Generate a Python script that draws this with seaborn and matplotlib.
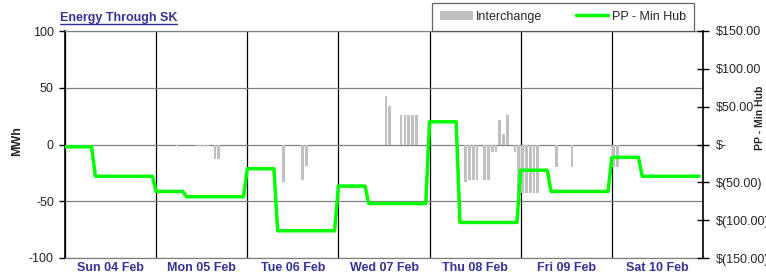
import numpy as np
import pandas as pd
import matplotlib
matplotlib.use("Agg")
import matplotlib.pyplot as plt
from matplotlib.lines import Line2D
from matplotlib.patches import Patch
import seaborn as sns

# --- data ------------------------------------------------------------------
days = ["Sun 04 Feb", "Mon 05 Feb", "Tue 06 Feb", "Wed 07 Feb",
        "Thu 08 Feb", "Fri 09 Feb", "Sat 10 Feb"]

# hourly interchange (MWh), 24 values per day
ic_sun = [0, 0, 0, 0, 0, 0, 0, 0, 0, 0, 0, 0, 0, 0, 0, 0, 0, 0, 0, 0, 0, 0, 0, 0]
ic_mon = [0, 0, 0, 0, 0, -1.5, 0, 0, 0, 0, -1.5, -1.5, -1.5, -1.5, 0, -13, -13, 0, 0, 0, 0, 0, 0, 0]
ic_tue = [0, 0, 0, 0, 0, 0, 0, 0, 0, -33, 0, 0, 0, 0, -31, -19, 0, 0, 0, 0, 0, 0, 0, 0]
ic_wed = [0, 0, 0, 0, 0, 0, 0, 0, 0, 0, 0, 0, 43, 34, 0, 0, 26, 26, 26, 26, 26, 0, 0, 0]
ic_thu = [0, 0, 0, 0, 0, 0, 0, 0, 0, -33, -31, -31, -31, 0, -31, -31, -7, -7, 22, 9, 26, 0, -7, -43]
ic_fri = [-43, -43, -43, -43, -43, 0, 0, 0, 0, -20, 0, 0, 0, -20, 0, 0, 0, 0, 0, 0, 0, 0, 0, 0]
ic_sat = [-20, -20, 0, 0, 0, 0, 0, 0, 0, 0, 0, 0, 0, 0, 0, 0, 0, 0, 0, 0, 0, 0, 0, 0]

# PP - Min Hub price ($): flat over hours 0-7 and over hours 8-23 of each day
price_early = [-3, -62, -32, -55, 30, -34, -17]
price_late = [-42, -69, -114, -78, -103, -62, -42]

price_ticks = [-150, -100, -50, 0, 50, 100, 150]
price_labels = ["\\$(150.00)", "\\$(100.00)", "\\$(50.00)", "\\$-",
                "\\$50.00", "\\$100.00", "\\$150.00"]
mwh_ticks = [-100, -50, 0, 50, 100]

interchange = ic_sun + ic_mon + ic_tue + ic_wed + ic_thu + ic_fri + ic_sat
price = []
for e, l in zip(price_early, price_late):
    price += [e] * 8 + [l] * 16

df = pd.DataFrame({"hour": np.arange(len(interchange)),
                   "interchange": interchange,
                   "price": price})

# --- style -----------------------------------------------------------------
sns.set_theme(style="white")
plt.rcParams["font.family"] = ["Liberation Sans", "DejaVu Sans"]
plt.rcParams["axes.unicode_minus"] = False

GREEN = "#00FF00"
GREY = "#C0C0C0"
NAVY = "#333399"

fig = plt.figure(figsize=(7.66, 2.75), dpi=100)
ax = fig.add_axes([65 / 766, 1 - 258 / 275, (703 - 65) / 766, (258 - 31) / 275])

sns.barplot(x=df["hour"] + 0.5, y=df["interchange"], native_scale=True,
            color=GREY, saturation=1, width=0.72, linewidth=0, ax=ax, zorder=2)

ax.set_xlim(0, len(df))
ax.set_ylim(-100, 100)
ax.set_yticks(mwh_ticks)
ax.set_xticks(np.arange(12, len(df), 24))
ax.set_xticklabels(days, fontsize=9, fontweight="bold", color=NAVY)
ax.set_xticks(np.arange(0, len(df) + 1, 24), minor=True)
ax.tick_params(axis="x", which="both", length=0, pad=3)
ax.tick_params(axis="y", length=4, width=1, color="black", direction="out",
               labelsize=9, pad=4, left=True)
ax.grid(axis="y", color="#808080", lw=0.9)
ax.grid(axis="x", which="minor", color="black", lw=0.9)
ax.set_axisbelow(True)
ax.set_xlabel("")
ax.set_ylabel("")
for side in ["top", "bottom"]:
    ax.spines[side].set_color("#808080")
    ax.spines[side].set_linewidth(0.9)
ax.spines["left"].set_color("black")
ax.spines["left"].set_linewidth(1.2)
ax.spines["right"].set_visible(False)

ax2 = ax.twinx()
sns.lineplot(x=df["hour"], y=df["price"], ax=ax2, color=GREEN, lw=2.5)
ax2.set_ylim(-150, 150)
ax2.set_xlim(0, len(df))
ax2.set_yticks(price_ticks)
ax2.set_yticklabels(price_labels)
ax2.tick_params(axis="y", length=8, width=1, color="black", direction="inout",
                labelsize=9, pad=5, right=True)
ax2.set_ylabel("")
ax2.set_xlabel("")
for side in ["top", "bottom", "left"]:
    ax2.spines[side].set_visible(False)
ax2.spines["right"].set_color("black")
ax2.spines["right"].set_linewidth(1.2)

# axis titles
fig.text(17 / 766, 1 - 141 / 275, "MWh", rotation=90, ha="center", va="center",
         fontsize=9, fontweight="bold")
fig.text(760 / 766, 1 - 118 / 275, "PP - Min Hub", rotation=90, ha="center",
         va="center", fontsize=7.5, fontweight="bold")

# underlined title
title = fig.text(60 / 766, 1 - 21 / 275, "Energy Through SK", ha="left",
                 va="baseline", fontsize=9, fontweight="bold", color=NAVY)
fig.canvas.draw()
bb = title.get_window_extent().transformed(fig.transFigure.inverted())
fig.add_artist(Line2D([bb.x0, bb.x1], [1 - 24 / 275] * 2, color=NAVY, lw=1,
                      transform=fig.transFigure))

# legend
handles = [Patch(facecolor=GREY, edgecolor="none", label="Interchange"),
           Line2D([], [], color=GREEN, lw=2.5, label="PP - Min Hub")]
leg = fig.legend(handles=handles, ncol=2, loc="lower left",
                 bbox_to_anchor=(432 / 766, 1 - 31 / 275), borderaxespad=0,
                 fontsize=9, frameon=True, fancybox=False, handlelength=2.6,
                 handletextpad=0.25, columnspacing=2.7, borderpad=0.66)
leg.get_frame().set_edgecolor("#404040")
leg.get_frame().set_linewidth(0.9)

fig.savefig("out.png", dpi=100)
